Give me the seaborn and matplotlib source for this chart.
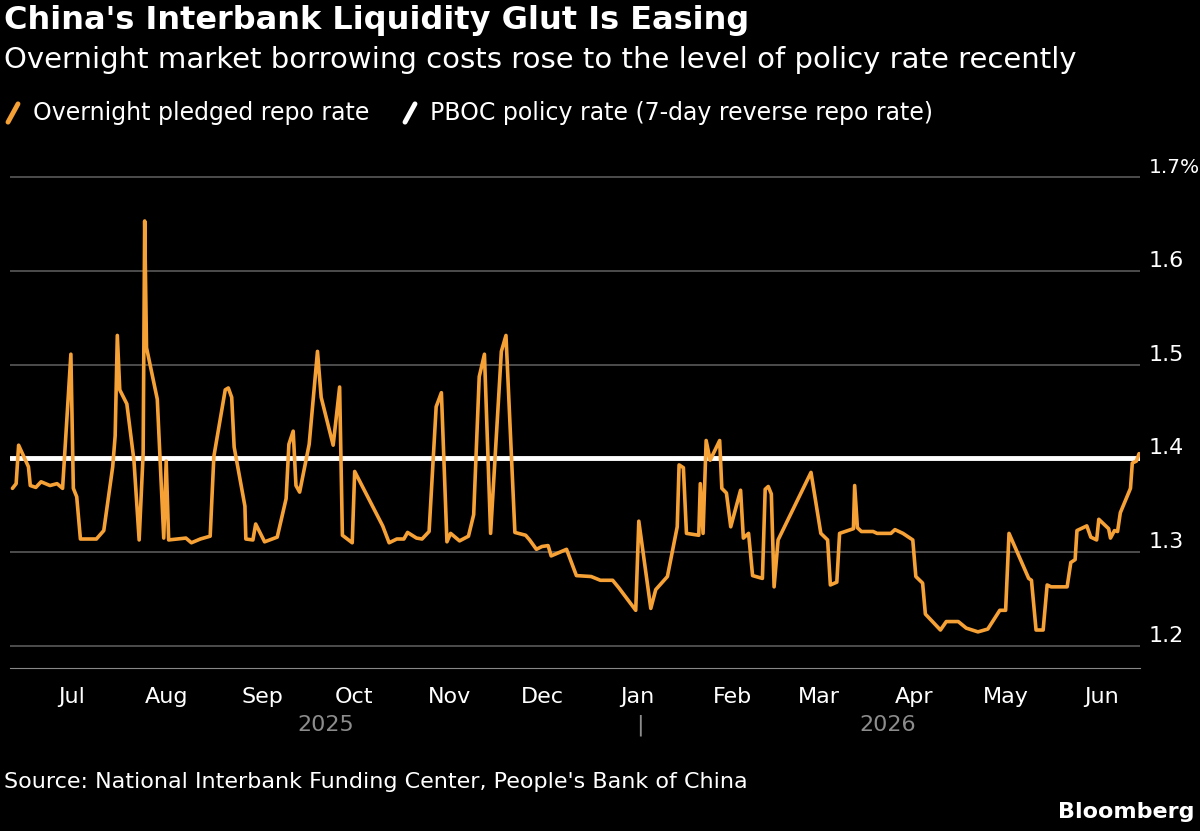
import pandas as pd
import seaborn as sns
import matplotlib.pyplot as plt
from matplotlib.lines import Line2D

# days since 2025-06-11, overnight pledged repo rate (%)
days = [0.8, 2, 2.8, 6, 6.6, 8.4, 10.1, 13, 15.3, 17.1, 19.8, 20.6, 21.7, 22.9, 28.1, 30.5,
        33.4, 34.2, 34.9, 35.7, 38, 40.3, 42, 43.3, 43.8, 44.4, 47.9, 50, 50.8, 51.6, 57.2, 59,
        61.9, 65.1, 66.3, 70, 71, 72.1, 72.9, 76.4, 76.7, 79, 79.9, 82.8, 86.9, 89.8, 90.7, 92.1,
        93, 94.2, 97.3, 100, 101.2, 105.1, 107.2, 108.1, 111.3, 112.1, 121.2, 123.3, 125.8, 128.1,
        129.3, 132.2, 134, 136.3, 138.6, 140.3, 142.1, 143.3, 146.2, 149.1, 150.8, 152.6, 154.3,
        156.3, 159.8, 161.3, 164.2, 167.7, 169, 171.2,
        173, 175, 176, 181, 184.2, 189, 192, 196, 198, 203.5, 204.5, 208.4, 210, 213.8, 217,
        217.6, 219, 220, 224, 224.5, 225.4, 226.4, 227.7, 230.8, 231.5, 233, 234.4, 237.6, 238.5,
        240.2, 241.5, 244.7, 245.6, 246.6, 247.6, 248.5, 249.8, 260.5, 263.7, 265.9, 266.8, 268.9,
        269.8, 274.3, 274.7, 275.6, 276.9, 280.7, 282, 286.5, 287.8, 290.4, 293.6, 294.6, 296.8,
        297.7, 302.6, 304.5, 308.4, 311, 314.8, 318, 321.9, 323.8, 324.9, 331.3, 332.2, 333.7,
        336, 337.3, 338.6, 343.8, 345, 346.4, 347, 350.2, 351.5, 353.4, 354.1, 357.3, 357.9,
        359.2, 360.2, 361.1, 364.4, 365, 366.3, 367.2]
repo = [1.368, 1.373, 1.414, 1.391, 1.371, 1.369, 1.375, 1.371, 1.373, 1.368, 1.511, 1.368, 1.359,
        1.314, 1.314, 1.323, 1.391, 1.424, 1.531, 1.473, 1.458, 1.398, 1.313, 1.405, 1.653, 1.518,
        1.463, 1.315, 1.397, 1.313, 1.315, 1.31, 1.314, 1.317, 1.402, 1.473, 1.475, 1.465, 1.412,
        1.349, 1.314, 1.313, 1.33, 1.311, 1.316, 1.357, 1.415, 1.429, 1.371, 1.364, 1.415, 1.514,
        1.465, 1.414, 1.476, 1.318, 1.31, 1.386, 1.328, 1.31, 1.314, 1.314, 1.321, 1.315, 1.314,
        1.322, 1.455, 1.47, 1.311, 1.32, 1.312, 1.317, 1.34, 1.487, 1.511, 1.32, 1.514, 1.531,
        1.321, 1.318, 1.313, 1.303,
        1.306, 1.307, 1.296, 1.303, 1.275, 1.274, 1.27, 1.27, 1.262, 1.238, 1.333, 1.24, 1.26,
        1.274, 1.327, 1.393, 1.39, 1.32, 1.318, 1.373, 1.32, 1.419, 1.398, 1.419, 1.368, 1.363,
        1.327, 1.366, 1.315, 1.32, 1.275, 1.272, 1.367, 1.37, 1.362, 1.263, 1.313, 1.385, 1.32,
        1.313, 1.265, 1.268, 1.32, 1.325, 1.371, 1.326, 1.322, 1.322, 1.32, 1.32, 1.324, 1.32,
        1.313, 1.274, 1.267, 1.234, 1.217, 1.226, 1.226, 1.219, 1.215, 1.218, 1.238, 1.238, 1.32,
        1.272, 1.27, 1.217, 1.217, 1.265, 1.263, 1.263, 1.289, 1.292, 1.323, 1.328, 1.316, 1.313,
        1.335, 1.325, 1.315, 1.323, 1.322, 1.342, 1.368, 1.395, 1.397, 1.405]
policy_rate = 1.4
month_labels = ["Jul", "Aug", "Sep", "Oct", "Nov", "Dec", "Jan", "Feb", "Mar", "Apr", "May", "Jun"]

start = pd.Timestamp("2025-06-11")
df = pd.DataFrame({"date": [start + pd.Timedelta(days=d) for d in days], "rate": repo})

ORANGE = "#f6a136"
sns.set_style("dark")
plt.rcParams["font.family"] = ["DejaVu Sans"]

fig = plt.figure(figsize=(12, 8.31), dpi=100, facecolor="black")
ax = fig.add_axes([10 / 1200, 1 - 668 / 831, 1130 / 1200, 508 / 831], facecolor="black")

x0 = pd.Timestamp("2025-06-11")
x1 = pd.Timestamp("2026-06-13 12:00")
for v in [1.2, 1.3, 1.4, 1.5, 1.6, 1.7]:
    ax.axhline(v, color="#5a5a5a", lw=1.2, zorder=1)
ax.axhline(policy_rate, color="white", lw=3.5, zorder=2)
sns.lineplot(data=df, x="date", y="rate", color=ORANGE, lw=2.6, ax=ax, zorder=3)

ax.set_xlim(x0, x1)
ax.set_ylim(1.1765, 1.718)
ax.yaxis.tick_right()
ax.set_yticks([1.2, 1.3, 1.4, 1.5, 1.6, 1.7])
ax.set_yticklabels(["1.2", "1.3", "1.4", "1.5", "1.6", "1.7%"])
ax.tick_params(axis="y", length=0, pad=6, labelsize=16, labelcolor="white")
for lab in ax.get_yticklabels():
    lab.set_verticalalignment("bottom")
ax.get_yticklabels()[-1].set_fontsize(14.5)
ticks = pd.date_range("2025-07-01", "2026-06-01", freq="MS")
ax.set_xticks(ticks)
ax.set_xticklabels(month_labels)
ax.tick_params(axis="x", length=8, width=1, color="#888888", labelsize=16, labelcolor="white", pad=6)
ax.set_xlabel("")
ax.set_ylabel("")
ax.grid(False)
for s in ["top", "left", "right"]:
    ax.spines[s].set_visible(False)
ax.spines["bottom"].set_color("#888888")

fig.text(326 / 1200, 1 - 725 / 831, "2025", color="#8c8c8c", fontsize=16, ha="center", va="center")
fig.text(888 / 1200, 1 - 725 / 831, "2026", color="#8c8c8c", fontsize=16, ha="center", va="center")
fig.text(640 / 1200, 1 - 725 / 831, "|", color="#8c8c8c", fontsize=16, ha="center", va="center")

fig.text(4 / 1200, 1 - 20 / 831, "China's Interbank Liquidity Glut Is Easing", color="white",
         fontsize=23, fontweight="bold", va="center")
fig.text(4 / 1200, 1 - 60 / 831, "Overnight market borrowing costs rose to the level of policy rate recently",
         color="white", fontsize=21, va="center")
ly = 1 - 113 / 831
fig.add_artist(Line2D([8 / 1200, 18 / 1200], [ly - 0.011, ly + 0.011], color=ORANGE, lw=3.5))
fig.text(33 / 1200, ly, "Overnight pledged repo rate", color="white", fontsize=17, va="center")
fig.add_artist(Line2D([405 / 1200, 415 / 1200], [ly - 0.011, ly + 0.011], color="white", lw=3.5))
fig.text(430 / 1200, ly, "PBOC policy rate (7-day reverse repo rate)", color="white", fontsize=17, va="center")

fig.text(4 / 1200, 1 - 782 / 831, "Source: National Interbank Funding Center, People's Bank of China",
         color="white", fontsize=16, va="center")
fig.text(1194 / 1200, 1 - 812 / 831, "Bloomberg", color="white", fontsize=16, fontweight="bold",
         ha="right", va="center")

fig.savefig("out.png", dpi=100, facecolor="black")
